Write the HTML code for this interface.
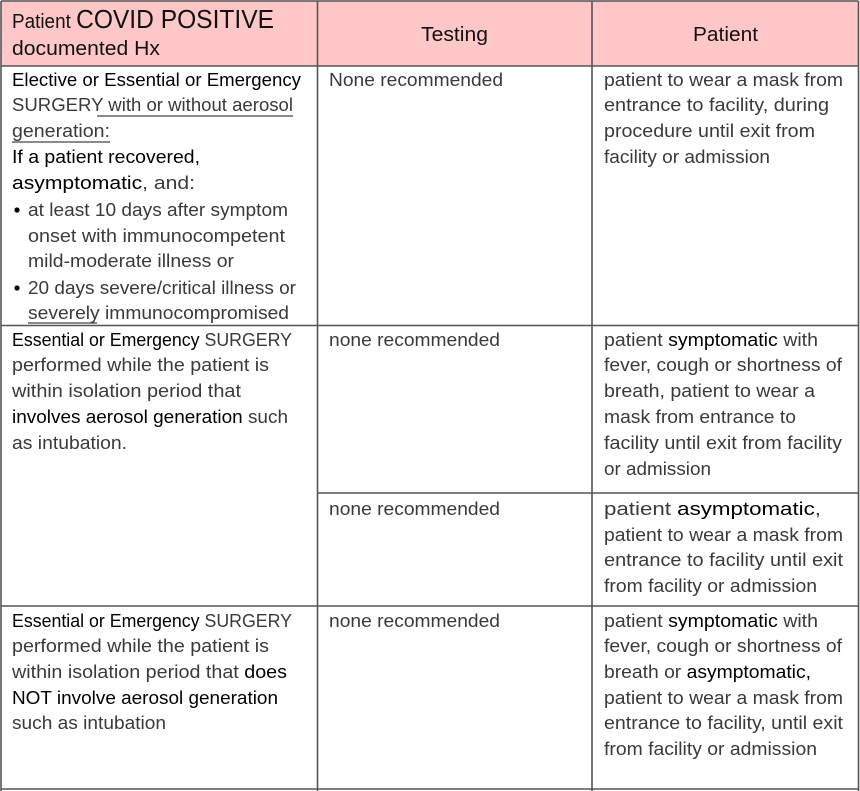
<!DOCTYPE html>
<html><head><meta charset="utf-8"><style>
html,body{margin:0;padding:0;background:#fff;}
svg{display:block}
text{font-family:"Liberation Sans",sans-serif;font-size:18px;fill:#3a3a3a}
.b{fill:#000}
.h{fill:#111}
</style></head><body>
<svg width="860" height="791" viewBox="0 0 860 791" xmlns="http://www.w3.org/2000/svg">
<rect x="1" y="1" width="857" height="65" fill="#ffc7c7"/>
<g stroke="#555" stroke-width="1.6" fill="none">
<line x1="1" y1="1" x2="858.5" y2="1"/>
<line x1="1" y1="1" x2="1" y2="791"/>
<line x1="858.5" y1="1" x2="858.5" y2="791"/>
<line x1="317.5" y1="1" x2="317.5" y2="791"/>
<line x1="592" y1="1" x2="592" y2="791"/>
<line x1="1" y1="66" x2="858.5" y2="66"/>
<line x1="1" y1="325.5" x2="858.5" y2="325.5"/>
<line x1="317.5" y1="493" x2="858.5" y2="493"/>
<line x1="1" y1="606" x2="858.5" y2="606"/>
<line x1="1" y1="789" x2="858.5" y2="789"/>
</g>
<!-- header -->
<text class="h" x="12" y="28" textLength="262" lengthAdjust="spacingAndGlyphs"><tspan style="font-size:20px">Patient </tspan><tspan style="font-size:26px">COVID POSITIVE</tspan></text>
<text class="h" x="12" y="55" textLength="148" lengthAdjust="spacingAndGlyphs" style="font-size:20px">documented Hx</text>
<text class="h" x="421" y="41" textLength="67" lengthAdjust="spacingAndGlyphs" style="font-size:20px">Testing</text>
<text class="h" x="693" y="41" textLength="65" lengthAdjust="spacingAndGlyphs" style="font-size:20px">Patient</text>

<!-- row1 col1 -->
<text class="b" x="12" y="86" textLength="289" lengthAdjust="spacingAndGlyphs">Elective or Essential or Emergency</text>
<text x="12" y="111" textLength="281" lengthAdjust="spacingAndGlyphs">SURGERY with or without aerosol</text>
<line x1="97" y1="116" x2="293" y2="116" stroke="#444" stroke-width="1.2"/>
<text x="12" y="137" textLength="98" lengthAdjust="spacingAndGlyphs">generation:</text>
<line x1="12" y1="142" x2="110" y2="142" stroke="#444" stroke-width="1.2"/>
<text class="b" x="12" y="163" textLength="188" lengthAdjust="spacingAndGlyphs">If a patient recovered,</text>
<text x="12" y="189" textLength="183" lengthAdjust="spacingAndGlyphs"><tspan class="b">asymptomatic</tspan>, and:</text>
<circle cx="17" cy="210" r="2.6" fill="#000"/>
<text x="28" y="216" textLength="260" lengthAdjust="spacingAndGlyphs">at least 10 days after symptom</text>
<text x="28" y="242" textLength="257" lengthAdjust="spacingAndGlyphs">onset with immunocompetent</text>
<text x="28" y="267" textLength="206" lengthAdjust="spacingAndGlyphs">mild-moderate illness or</text>
<circle cx="17" cy="288" r="2.6" fill="#000"/>
<text x="28" y="294" textLength="268" lengthAdjust="spacingAndGlyphs">20 days severe/critical illness or</text>
<text x="28" y="319" textLength="261" lengthAdjust="spacingAndGlyphs">severely immunocompromised</text>
<line x1="28" y1="323" x2="97" y2="323" stroke="#444" stroke-width="1.2"/>
<text x="329" y="86" textLength="174" lengthAdjust="spacingAndGlyphs">None recommended</text>
<text x="604" y="86" textLength="239" lengthAdjust="spacingAndGlyphs">patient to wear a mask from</text>
<text x="604" y="111" textLength="225" lengthAdjust="spacingAndGlyphs">entrance to facility, during</text>
<text x="604" y="137" textLength="211" lengthAdjust="spacingAndGlyphs">procedure until exit from</text>
<text x="604" y="163" textLength="166" lengthAdjust="spacingAndGlyphs">facility or admission</text>

<!-- row2 -->
<text x="12" y="346" textLength="280" lengthAdjust="spacingAndGlyphs"><tspan class="b">Essential or Emergency</tspan> SURGERY</text>
<text x="12" y="371" textLength="257" lengthAdjust="spacingAndGlyphs">performed while the patient is</text>
<text x="12" y="397" textLength="229" lengthAdjust="spacingAndGlyphs">within isolation period that</text>
<text x="12" y="423" textLength="276" lengthAdjust="spacingAndGlyphs"><tspan class="b">involves aerosol generation</tspan> such</text>
<text x="12" y="449" textLength="115" lengthAdjust="spacingAndGlyphs">as intubation.</text>
<text x="329" y="346" textLength="171" lengthAdjust="spacingAndGlyphs">none recommended</text>
<text x="604" y="346" textLength="214" lengthAdjust="spacingAndGlyphs">patient <tspan class="b">symptomatic</tspan> with</text>
<text x="604" y="371" textLength="238" lengthAdjust="spacingAndGlyphs">fever, cough or shortness of</text>
<text x="604" y="397" textLength="211" lengthAdjust="spacingAndGlyphs">breath, patient to wear a</text>
<text x="604" y="423" textLength="192" lengthAdjust="spacingAndGlyphs">mask from entrance to</text>
<text x="604" y="449" textLength="238" lengthAdjust="spacingAndGlyphs">facility until exit from facility</text>
<text x="604" y="475" textLength="107" lengthAdjust="spacingAndGlyphs">or admission</text>
<text x="329" y="515" textLength="171" lengthAdjust="spacingAndGlyphs">none recommended</text>
<text x="604" y="515" textLength="217" lengthAdjust="spacingAndGlyphs">patient <tspan class="b">asymptomatic</tspan>,</text>
<text x="604" y="541" textLength="239" lengthAdjust="spacingAndGlyphs">patient to wear a mask from</text>
<text x="604" y="566" textLength="239" lengthAdjust="spacingAndGlyphs">entrance to facility until exit</text>
<text x="604" y="592" textLength="213" lengthAdjust="spacingAndGlyphs">from facility or admission</text>

<!-- row3 -->
<text x="12" y="627" textLength="280" lengthAdjust="spacingAndGlyphs"><tspan class="b">Essential or Emergency</tspan> SURGERY</text>
<text x="12" y="652" textLength="257" lengthAdjust="spacingAndGlyphs">performed while the patient is</text>
<text x="12" y="678" textLength="275" lengthAdjust="spacingAndGlyphs">within isolation period that <tspan class="b">does</tspan></text>
<text class="b" x="12" y="704" textLength="266" lengthAdjust="spacingAndGlyphs">NOT involve aerosol generation</text>
<text x="12" y="729" textLength="154" lengthAdjust="spacingAndGlyphs">such as intubation</text>
<text x="329" y="627" textLength="171" lengthAdjust="spacingAndGlyphs">none recommended</text>
<text x="604" y="627" textLength="214" lengthAdjust="spacingAndGlyphs">patient <tspan class="b">symptomatic</tspan> with</text>
<text x="604" y="652" textLength="238" lengthAdjust="spacingAndGlyphs">fever, cough or shortness of</text>
<text x="604" y="678" textLength="207" lengthAdjust="spacingAndGlyphs">breath or <tspan class="b">asymptomatic,</tspan></text>
<text x="604" y="704" textLength="239" lengthAdjust="spacingAndGlyphs">patient to wear a mask from</text>
<text x="604" y="729" textLength="239" lengthAdjust="spacingAndGlyphs">entrance to facility, until exit</text>
<text x="604" y="755" textLength="213" lengthAdjust="spacingAndGlyphs">from facility or admission</text>
</svg>
</body></html>
